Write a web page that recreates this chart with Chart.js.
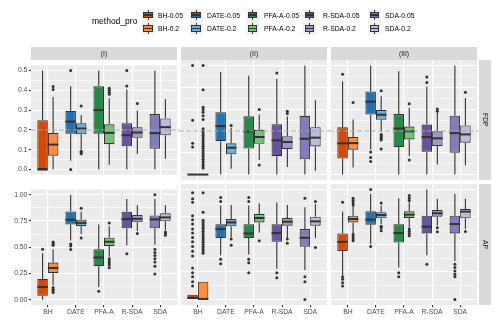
<!DOCTYPE html>
<html>
<head>
<meta charset="utf-8">
<script src="https://cdn.jsdelivr.net/npm/chart.js@4.4.1/dist/chart.umd.min.js"></script>
<style>
  body { margin: 0; background: #fff; font-family: "Liberation Sans", Arial, Helvetica, sans-serif; }
  #fig { position: relative; width: 495px; height: 330px; overflow: hidden; background: #fff; }
  #fig canvas { position: absolute; }
  .strip { position: absolute; background: #D9D9D9; color: #1A1A1A; font-size: 6.8px;
           display: flex; align-items: center; justify-content: center; will-change: transform; }
  .strip.right { writing-mode: vertical-rl; }
  .lg-title { position: absolute; left: 92px; top: 16px; font-size: 8.5px; color: #000; will-change: transform; }
  .lg-key { position: absolute; width: 13px; height: 13px; background: #F2F2F2; }
  .lg-key .wh { position: absolute; left: 6px; top: 1.3px; width: 1px; height: 10.4px; background: #333; }
  .lg-key .bx { position: absolute; left: 1.6px; top: 3.25px; width: 9.8px; height: 6.5px;
                box-sizing: border-box; border: 1px solid #333; }
  .lg-key .md { position: absolute; left: 1.6px; top: 5.75px; width: 9.8px; height: 1.5px; background: #333; }
  .lg-label { position: absolute; font-size: 6.8px; color: #000; line-height: 13px; white-space: nowrap; will-change: transform; }
</style>
</head>
<body>
<div id="fig"></div>
<script>
// categories / groups
const categories = ['BH', 'DATE', 'PFA-A', 'R-SDA', 'SDA'];
const levels = ['0.05', '0.2'];
const facets = ['(I)', '(II)', '(III)'];
const metrics = ['FDP', 'AP'];

const colors005 = ['#D94801', '#2171B5', '#238B45', '#6A51A3', '#807DBA'];
const colors02 = ['#FD8D3C', '#6BAED6', '#74C476', '#9E9AC8', '#BCBDDC'];

// y ticks
const fdpTicks = [0, 0.1, 0.2, 0.3, 0.4, 0.5];
const fdpTickLabels = ['0.0', '0.1', '0.2', '0.3', '0.4', '0.5'];
const fdpMinor = [0.05, 0.15, 0.25, 0.35, 0.45];
const apTicks = [0, 0.25, 0.5, 0.75, 1];
const apTickLabels = ['0.00', '0.25', '0.50', '0.75', '1.00'];
const apMinor = [0.125, 0.375, 0.625, 0.875];
const fdpTarget = 0.2;

// box stats per category: [lower whisker, q1, median, q3, upper whisker]
// ---- FDP (I)
const fdpI005 = [[0, 0, 0, 0.249, 0.5], [0.044, 0.181, 0.242, 0.296, 0.42], [0, 0.181, 0.3, 0.42, 0.5], [0, 0.117, 0.173, 0.233, 0.404], [0, 0.105, 0.184, 0.28, 0.5]];
const fdpI005Out = [[], [0.5, 0], [], [0.5, 0.422], []];
const fdpI02 = [[0, 0.07, 0.126, 0.185, 0.366], [0.1, 0.178, 0.207, 0.233, 0.275], [0.024, 0.128, 0.185, 0.228, 0.36], [0.078, 0.16, 0.187, 0.214, 0.298], [0.055, 0.173, 0.214, 0.258, 0.356]];
const fdpI02Out = [[0.419, 0.404], [0.32, 0.092, 0.086, 0.08], [0.41, 0.4, 0.39, 0.38], [0.333], []];
// ---- FDP (II)
const fdpII005 = [[0, 0, 0, 0, 0], [0, 0.153, 0.222, 0.286, 0.47], [0, 0.119, 0.198, 0.267, 0.453], [0, 0.084, 0.157, 0.231, 0.438], [0, 0.07, 0.164, 0.269, 0.5]];
const fdpII005Out = [[0.5, 0.249, 0.143, 0.126], [], [], [0.465], []];
const fdpII02 = [[0, 0, 0, 0, 0], [0.027, 0.093, 0.123, 0.143, 0.214], [0.067, 0.141, 0.172, 0.205, 0.275], [0.035, 0.117, 0.149, 0.176, 0.267], [0.017, 0.129, 0.169, 0.217, 0.34]];
const fdpII02Out = [[0.5, 0.389, 0.309, 0.298, 0.286, 0.27, 0.252, 0.21, 0.2, 0.19, 0.18, 0.17, 0.16, 0.15, 0.14, 0.13, 0.12, 0.11, 0.1, 0.09, 0.08, 0.07, 0.06, 0.05, 0.04, 0.03], [0.225], [0.298, 0.044], [0.29, 0.28], []];
// ---- FDP (III)
const fdpIII005 = [[0, 0.073, 0.143, 0.217, 0.427], [0.115, 0.275, 0.334, 0.381, 0.5], [0, 0.126, 0.211, 0.277, 0.473], [0, 0.105, 0.172, 0.229, 0.404], [0, 0.1, 0.19, 0.27, 0.5]];
const fdpIII005Out = [[0.46], [0.103, 0.078, 0.06], [], [0.447, 0.422], []];
const fdpIII02 = [[0.032, 0.114, 0.144, 0.172, 0.252], [0.196, 0.251, 0.274, 0.296, 0.359], [0.085, 0.161, 0.198, 0.22, 0.305], [0.046, 0.131, 0.166, 0.198, 0.283], [0.043, 0.146, 0.184, 0.225, 0.351]];
const fdpIII02Out = [[0.33], [0.384, 0.184, 0.178, 0.171, 0.165, 0.158, 0.117], [0.325, 0.067], [0.3, 0.29], [0.377]];
// ---- AP (I)
const apI005 = [[0, 0.037, 0.122, 0.198, 0.442], [0.564, 0.716, 0.762, 0.841, 1.0], [0.122, 0.32, 0.402, 0.482, 0.716], [0.518, 0.68, 0.768, 0.838, 0.96], [0.524, 0.68, 0.765, 0.802, 0.96]];
const apI005Out = [[0.482], [0.53, 0.512, 0.479], [0.082], [0.439], [1.0, 0.482, 0.451, 0.421, 0.39, 0.36, 0.32, 0.244]];
const apI02 = [[0.137, 0.253, 0.302, 0.354, 0.48], [0.625, 0.701, 0.732, 0.762, 0.838], [0.41, 0.512, 0.552, 0.591, 0.7], [0.655, 0.738, 0.771, 0.808, 0.9], [0.665, 0.747, 0.784, 0.823, 0.9]];
const apI02Out = [[0.55, 0.54, 0.53, 0.52, 0.116, 0.1, 0.085, 0.07], [0.872, 0.588], [0.732, 0.39, 0.37, 0.35, 0.33, 0.305], [0.631], [0.646, 0.63, 0.615]];
// ---- AP (II)
const apII005 = [[0, 0, 0.015, 0.043, 0.043], [0.402, 0.558, 0.64, 0.683, 0.854], [0.41, 0.558, 0.6, 0.683, 0.854], [0.28, 0.524, 0.604, 0.683, 0.884], [0.268, 0.479, 0.561, 0.64, 0.838]];
const apII005Out = [[0.97, 0.915, 0.884, 0.762, 0.726, 0.686, 0.64, 0.604, 0.564, 0.524, 0.482, 0.439, 0.396, 0.287, 0.244, 0.207, 0.162, 0.122], [0.927, 0.89, 0.366, 0.326], [0.927, 0.89, 0.366, 0.335, 0.244], [0.244, 0.198], [0.921, 0.207, 0.162, 0]];
const apII02 = [[0, 0, 0.005, 0.162, 0.162], [0.564, 0.665, 0.701, 0.732, 0.86], [0.61, 0.701, 0.741, 0.777, 0.875], [0.56, 0.671, 0.707, 0.741, 0.86], [0.56, 0.671, 0.71, 0.753, 0.869]];
const apII02Out = [[0.97, 0.793, 0.72, 0.7, 0.68, 0.66, 0.64, 0.62, 0.6, 0.58, 0.56, 0.54, 0.52, 0.5, 0.48, 0.46, 0.44, 0.42], [0.549, 0.494], [0.534], [0.549, 0.512], [0.89, 0.473]];
// ---- AP (III)
const apIII005 = [[0.22, 0.442, 0.524, 0.601, 0.799], [0.503, 0.68, 0.726, 0.802, 0.96], [0.29, 0.518, 0.604, 0.683, 0.921], [0.402, 0.601, 0.662, 0.762, 1.0], [0.35, 0.601, 0.686, 0.762, 0.96]];
const apIII005Out = [[0.884, 0.207, 0.183, 0.152, 0.122], [1.0, 0.482], [0.244, 0.207], [0.32], [0.32, 0.29, 0.26, 0.23, 0.207, 0]];
const apIII02 = [[0.595, 0.701, 0.732, 0.762, 0.854], [0.686, 0.738, 0.768, 0.793, 0.854], [0.655, 0.741, 0.771, 0.802, 0.884], [0.671, 0.753, 0.784, 0.814, 0.915], [0.64, 0.738, 0.799, 0.823, 0.915]];
const apIII02Out = [[0.92, 0.9, 0.88, 0.86, 0.59, 0.57, 0.55, 0.534], [0.878, 0.665, 0.65, 0.625], [0.945, 0.92, 0.9, 0.64, 0.62, 0.6, 0.58], [0.652, 0.616], [0.619]];

const fontFamily = '"Liberation Sans", Arial, Helvetica, sans-serif';
const fig = document.getElementById('fig');

// facet layout (pixels)
const colLeft = [31, 181, 331];
const panelW = 146;
const rowTop = [60, 184];
const rowH = [120, 121];

// box plot pieces drawn on top of the floating bars
const boxPlugin = {
    id: 'boxes',
    beforeDraw(chart) {
        const a = chart.chartArea;
        chart.ctx.save();
        chart.ctx.fillStyle = '#EBEBEB';
        chart.ctx.fillRect(a.left, a.top, a.right - a.left, a.bottom - a.top);
        chart.ctx.restore();
    },
    beforeDatasetsDraw(chart) { drawBoxParts(chart, 'whisker'); },
    afterDatasetsDraw(chart) { drawBoxParts(chart, 'median'); },
    afterDraw(chart) {
        const ref = chart.options.plugins.boxes;
        if (!ref || !ref.refLine) return;
        const ctx = chart.ctx;
        const yy = chart.scales.y.getPixelForValue(fdpTarget);
        ctx.save();
        ctx.strokeStyle = '#A3A3A3';
        ctx.lineWidth = 0.9;
        ctx.setLineDash([5, 2]);
        ctx.beginPath();
        ctx.moveTo(ref.lineFrom === 'area' ? chart.chartArea.left : 0, yy);
        ctx.lineTo(chart.width - (ref.lineEnd || 0), yy);
        ctx.stroke();
        ctx.restore();
    }
};

function drawBoxParts(chart, phase) {
    const ctx = chart.ctx;
    const y = chart.scales.y;
    chart.data.datasets.forEach((ds, d) => {
        const meta = chart.getDatasetMeta(d);
        meta.data.forEach((bar, i) => {
            const s = ds.stats[i];
            const x = bar.x;
            const w = bar.width;
            ctx.save();
            ctx.strokeStyle = '#333333';
            if (phase === 'whisker') {
                ctx.lineWidth = 1.1;
                ctx.beginPath();
                ctx.moveTo(x, y.getPixelForValue(s[4]));
                ctx.lineTo(x, y.getPixelForValue(s[3]));
                ctx.moveTo(x, y.getPixelForValue(s[1]));
                ctx.lineTo(x, y.getPixelForValue(s[0]));
                ctx.stroke();
            } else {
                const ym = y.getPixelForValue(s[2]);
                ctx.lineWidth = 2;
                ctx.beginPath();
                ctx.moveTo(x - w / 2, ym);
                ctx.lineTo(x + w / 2, ym);
                ctx.stroke();
                ctx.fillStyle = '#333333';
                ds.outliers[i].forEach(v => {
                    ctx.beginPath();
                    ctx.arc(x, y.getPixelForValue(v), 1.5, 0, Math.PI * 2);
                    ctx.fill();
                });
            }
            ctx.restore();
        });
    });
}

function makeDataset(stats, outliers, colors) {
    return {
        data: categories.map((c, i) => ({ x: i + 1, y: [stats[i][1], stats[i][3]] })),
        stats: stats,
        outliers: outliers,
        backgroundColor: colors,
        borderColor: '#333333',
        borderWidth: 1.1,
        borderSkipped: false,
        categoryPercentage: 0.75,
        barPercentage: 1.0
    };
}

function makePanel(row, col, lo, loOut, hi, hiOut) {
    const first = col === 0;
    const top = row === 0;
    const yAxisW = first ? 31 : 0;
    const padL = top && !first ? 2 : 0;
    const padR = top ? 2 : 0;
    const xAxisH = top ? 0 : 25;
    const left = colLeft[col] - yAxisW - padL;
    const width = yAxisW + padL + panelW + padR;
    const height = rowH[row] + xAxisH;

    const canvas = document.createElement('canvas');
    canvas.width = width;
    canvas.height = height;
    canvas.style.left = left + 'px';
    canvas.style.top = rowTop[row] + 'px';
    fig.appendChild(canvas);

    const majors = top ? fdpTicks : apTicks;
    const majorLabels = top ? fdpTickLabels : apTickLabels;
    const minors = top ? fdpMinor : apMinor;

    return new Chart(canvas, {
        type: 'bar',
        data: {
            datasets: [makeDataset(lo, loOut, colors005), makeDataset(hi, hiOut, colors02)]
        },
        options: {
            responsive: false,
            animation: false,
            devicePixelRatio: 1,
            layout: { padding: { left: padL, right: padR, top: 0, bottom: 0 } },
            plugins: {
                legend: { display: false },
                tooltip: { enabled: false },
                boxes: top ? { refLine: true, lineFrom: first ? 'area' : 'edge', lineEnd: col === 2 ? 1 : 0 } : {}
            },
            scales: {
                x: {
                    type: 'linear',
                    min: 0.4,
                    max: 5.6,
                    offset: false,
                    afterBuildTicks: s => { s.ticks = categories.map((c, i) => ({ value: i + 1 })); },
                    afterFit: s => { s.height = xAxisH; },
                    ticks: {
                        display: !top,
                        autoSkip: false,
                        maxRotation: 0,
                        padding: 1,
                        color: '#4D4D4D',
                        font: { family: fontFamily, size: 6.8 },
                        callback: v => categories[v - 1]
                    },
                    grid: {
                        offset: false,
                        color: '#FFFFFF',
                        lineWidth: 1.1,
                        drawTicks: !top,
                        tickLength: 2.2,
                        tickColor: '#333333',
                        tickWidth: 1.1
                    },
                    border: { display: false }
                },
                y: {
                    type: 'linear',
                    min: top ? -0.025 : -0.05,
                    max: top ? 0.525 : 1.05,
                    afterBuildTicks: s => {
                        s.ticks = majors.map(v => ({ value: v, minor: false }))
                            .concat(minors.map(v => ({ value: v, minor: true })))
                            .sort((a, b) => a.value - b.value);
                    },
                    afterFit: s => { s.width = yAxisW; },
                    ticks: {
                        display: first,
                        autoSkip: false,
                        padding: 1.4,
                        color: '#4D4D4D',
                        font: { family: fontFamily, size: 6.8 },
                        callback: v => {
                            const k = majors.indexOf(v);
                            return k < 0 ? '' : majorLabels[k];
                        }
                    },
                    grid: {
                        color: '#FFFFFF',
                        lineWidth: c => (c.tick && c.tick.minor ? 0.55 : 1.1),
                        drawTicks: first,
                        tickLength: 2.2,
                        tickColor: c => (c.tick && c.tick.minor ? 'rgba(0,0,0,0)' : '#333333'),
                        tickWidth: 1.1
                    },
                    border: { display: false }
                }
            }
        },
        plugins: [boxPlugin]
    });
}

// strips
facets.forEach((f, c) => {
    const el = document.createElement('div');
    el.className = 'strip';
    el.style.left = colLeft[c] + 'px';
    el.style.top = '47px';
    el.style.width = panelW + 'px';
    el.style.height = '13px';
    el.textContent = f;
    fig.appendChild(el);
});
metrics.forEach((m, r) => {
    const el = document.createElement('div');
    el.className = 'strip right';
    el.style.left = '479px';
    el.style.top = rowTop[r] + 'px';
    el.style.width = '12px';
    el.style.height = rowH[r] + 'px';
    el.textContent = m;
    fig.appendChild(el);
});

// legend
const lgTitle = document.createElement('div');
lgTitle.className = 'lg-title';
lgTitle.textContent = 'method_pro';
fig.appendChild(lgTitle);
const keyLeft = [141.5, 189.5, 246, 303, 368];
const labelLeft = [158, 207, 264, 323, 385];
const rowKeyTop = [8.5, 22];
categories.forEach((c, i) => {
    levels.forEach((lv, r) => {
        const key = document.createElement('div');
        key.className = 'lg-key';
        key.style.left = keyLeft[i] + 'px';
        key.style.top = rowKeyTop[r] + 'px';
        const color = r === 0 ? colors005[i] : colors02[i];
        key.innerHTML = '<div class="wh"></div><div class="bx" style="background:' + color + '"></div><div class="md"></div>';
        fig.appendChild(key);
        const lab = document.createElement('div');
        lab.className = 'lg-label';
        lab.style.left = labelLeft[i] + 'px';
        lab.style.top = rowKeyTop[r] + 'px';
        lab.textContent = c + '-' + lv;
        fig.appendChild(lab);
    });
});

// panels
makePanel(0, 0, fdpI005, fdpI005Out, fdpI02, fdpI02Out);
makePanel(0, 1, fdpII005, fdpII005Out, fdpII02, fdpII02Out);
makePanel(0, 2, fdpIII005, fdpIII005Out, fdpIII02, fdpIII02Out);
makePanel(1, 0, apI005, apI005Out, apI02, apI02Out);
makePanel(1, 1, apII005, apII005Out, apII02, apII02Out);
makePanel(1, 2, apIII005, apIII005Out, apIII02, apIII02Out);
</script>
</body>
</html>
